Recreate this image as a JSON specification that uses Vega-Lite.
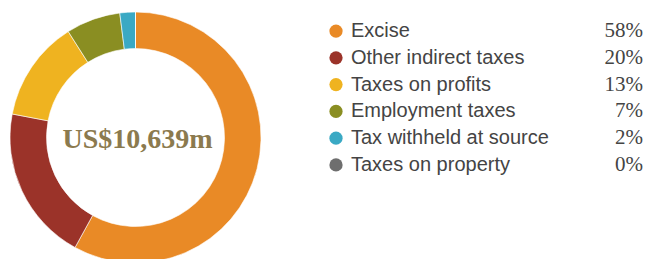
{
  "$schema": "https://vega.github.io/schema/vega-lite/v6.json",
  "padding": 0,
  "spacing": 58,
  "background": "white",
  "config": {"view": {"stroke": null}},
  "data": {
    "values": [
      {"order": 1, "category": "Excise", "value": 58, "pct": "58%"},
      {"order": 2, "category": "Other indirect taxes", "value": 20, "pct": "20%"},
      {"order": 3, "category": "Taxes on profits", "value": 13, "pct": "13%"},
      {"order": 4, "category": "Employment taxes", "value": 7, "pct": "7%"},
      {"order": 5, "category": "Tax withheld at source", "value": 2, "pct": "2%"},
      {"order": 6, "category": "Taxes on property", "value": 0, "pct": "0%"}
    ]
  },
  "hconcat": [
    {
      "width": 271,
      "height": 275,
      "layer": [
        {
          "mark": {"type": "arc", "innerRadius": 89, "outerRadius": 125.5, "stroke": "white", "strokeWidth": 0.6},
          "encoding": {
            "theta": {"field": "value", "type": "quantitative", "stack": true},
            "order": {"field": "order", "type": "quantitative"},
            "color": {
              "field": "category",
              "type": "nominal",
              "scale": {
                "domain": ["Excise", "Other indirect taxes", "Taxes on profits", "Employment taxes", "Tax withheld at source", "Taxes on property"],
                "range": ["#E98A26", "#9B3329", "#EFB320", "#8A8E22", "#3AA9C4", "#6E6E6E"]
              },
              "legend": null
            }
          }
        },
        {
          "data": {"values": [{"total": "US$10,639m"}]},
          "mark": {"type": "text", "font": "Liberation Serif", "fontWeight": "bold", "fontSize": 28, "color": "#8B7A4E", "baseline": "middle", "align": "center", "dy": 2, "dx": 2},
          "encoding": {"text": {"field": "total", "type": "nominal"}}
        }
      ]
    },
    {
      "width": 307,
      "height": 196,
      "encoding": {
        "y": {
          "field": "category",
          "type": "nominal",
          "sort": ["Excise", "Other indirect taxes", "Taxes on profits", "Employment taxes", "Tax withheld at source", "Taxes on property"],
          "scale": {"type": "band", "paddingInner": 0, "paddingOuter": 0.66},
          "axis": null
        }
      },
      "layer": [
        {
          "mark": {"type": "point", "shape": "circle", "filled": true, "opacity": 1, "size": 175},
          "encoding": {
            "x": {"datum": 0, "type": "quantitative", "scale": {"domain": [0, 1]}, "axis": null},
            "color": {"field": "category", "type": "nominal", "legend": null}
          }
        },
        {
          "mark": {"type": "text", "align": "left", "baseline": "middle", "dx": 15, "font": "Liberation Sans", "fontSize": 20, "color": "#444444"},
          "encoding": {
            "x": {"datum": 0, "type": "quantitative"},
            "text": {"field": "category", "type": "nominal"}
          }
        },
        {
          "mark": {"type": "text", "align": "right", "baseline": "middle", "font": "Liberation Serif", "fontSize": 21, "color": "#444444"},
          "encoding": {
            "x": {"datum": 1, "type": "quantitative"},
            "text": {"field": "pct", "type": "nominal"}
          }
        }
      ]
    }
  ]
}
